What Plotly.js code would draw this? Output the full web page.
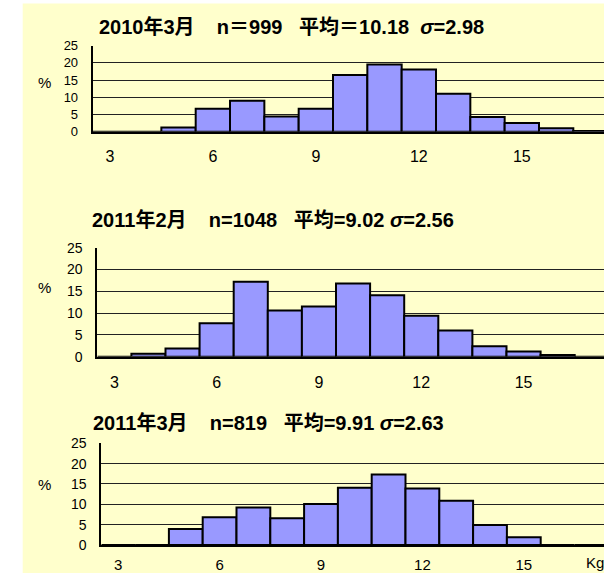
<!DOCTYPE html>
<html>
<head>
<meta charset="utf-8">
<script src="https://cdn.plot.ly/plotly-3.0.1.min.js"></script>
<style>html,body{margin:0;padding:0;background:#fff;overflow:hidden;}</style>
</head>
<body>
<div id="chart" style="width:604px;height:573px;"></div>
<script>
// Weight classes (kg) for every histogram
const categories = [3, 4, 5, 6, 7, 8, 9, 10, 11, 12, 13, 14, 15, 16, 17];
// Percent of children in each class
const pct2010Mar = [0, 0, 1.2, 6.7, 9.0, 4.4, 6.7, 16.5, 19.5, 18.1, 11.0, 4.3, 2.5, 1.0, 0.2];
const pct2011Feb = [0, 0.7, 1.9, 7.7, 17.2, 10.6, 11.5, 16.8, 14.1, 9.4, 6.0, 2.4, 1.2, 0.4, 0];
const pct2011Mar = [0, 0, 3.95, 6.8, 9.2, 6.6, 10.1, 14.1, 17.3, 13.9, 10.9, 4.9, 1.9, 0, 0];
const xTickVals = [3, 6, 9, 12, 15];
const xTickText = ['3', '6', '9', '12', '15'];
const yTickVals = [0, 5, 10, 15, 20, 25];
const titles = [
  '2010年3月\u00A0\u00A0\u00A0\u00A0n＝999\u00A0\u00A0\u00A0平均＝10.18\u00A0\u00A0<i>σ</i>=2.98',
  '2011年2月\u00A0\u00A0\u00A0\u00A0n=1048\u00A0\u00A0\u00A0平均=9.02\u00A0<i>σ</i>=2.56',
  '2011年3月\u00A0\u00A0\u00A0\u00A0n=819\u00A0\u00A0\u00A0平均=9.91\u00A0<i>σ</i>=2.63'
];
const yLabel = '%';
const xUnit = 'Kg';

const W = 604, H = 573;
const px = v => v / W;
const py = v => (H - v) / H;

const barStyle = {color: '#9999FF', line: {color: '#000', width: 2}};
const series = [pct2010Mar, pct2011Feb, pct2011Mar];
// pixel geometry of each panel
const geo = [
  {left: 92.7, unit: 34.33, top: 45.7, bottom: 131.7, tf: 13, xf: 16, xs: 9, tx: 97, ty: 26.5, py: 83},
  {left: 97.3, unit: 34.1, top: 247.7, bottom: 356.7, tf: 14, xf: 16, xs: 10, tx: 90, ty: 220, py: 287},
  {left: 101.3, unit: 33.8, top: 443.3, bottom: 545, tf: 14, xf: 15, xs: 5, tx: 91, ty: 423, py: 484}
];

const data = series.map((s, i) => ({
  type: 'bar', x: categories, y: s, width: 1,
  xaxis: i === 0 ? 'x' : 'x' + (i + 1),
  yaxis: i === 0 ? 'y' : 'y' + (i + 1),
  marker: barStyle, hoverinfo: 'x+y', showlegend: false
}));

const xFontFam = '"Liberation Sans Narrow", "Liberation Sans", "Noto Sans CJK JP", sans-serif';
const yFontFam = '"Liberation Sans", "Noto Sans CJK JP", sans-serif';
const layout = {
  width: W, height: H,
  margin: {l: 0, r: 0, t: 0, b: 0},
  paper_bgcolor: '#ffffff', plot_bgcolor: '#ffffff',
  bargap: 0, showlegend: false,
  shapes: [{type: 'rect', xref: 'paper', yref: 'paper', x0: px(22.7), x1: 1, y0: 0, y1: py(3.5),
            fillcolor: '#FFFFCC', line: {width: 0}, layer: 'below'}],
  annotations: []
};

geo.forEach((g, i) => {
  const sx = i === 0 ? '' : String(i + 1);
  const span = (W - g.left) / g.unit;
  layout['xaxis' + sx] = {
    domain: [px(g.left), 1], range: [2.5, 2.5 + span], anchor: 'y' + sx,
    tickmode: 'array', tickvals: xTickVals, ticktext: xTickText,
    showgrid: false, zeroline: false, showline: true, linecolor: '#000', linewidth: 2,
    ticks: '', ticklabelstandoff: g.xs,
    tickfont: {family: xFontFam, size: g.xf, color: '#000'}, fixedrange: true
  };
  layout['yaxis' + sx] = {
    domain: [py(g.bottom), py(g.top)], range: [0, 25], anchor: 'x' + sx,
    tickmode: 'array', tickvals: yTickVals,
    showgrid: true, gridcolor: '#222', gridwidth: 1, zeroline: false,
    showline: true, linecolor: '#000', linewidth: 2,
    ticks: '', ticklabelstandoff: 10,
    tickfont: {family: yFontFam, size: g.tf, color: '#000'}, fixedrange: true
  };
  layout.annotations.push({
    xref: 'paper', yref: 'paper', x: px(g.tx), y: py(g.ty), xanchor: 'left', yanchor: 'middle',
    text: titles[i], showarrow: false,
    font: {family: '"Liberation Sans", "Noto Sans CJK JP", sans-serif', size: 20, color: '#000', weight: 'bold'}
  });
  layout.annotations.push({
    xref: 'paper', yref: 'paper', x: px(44), y: py(g.py), xanchor: 'center', yanchor: 'middle',
    text: yLabel, showarrow: false,
    font: {family: yFontFam, size: 15, color: '#000'}
  });
});
layout.annotations.push({
  xref: 'paper', yref: 'paper', x: px(584), y: 0, xanchor: 'left', yanchor: 'bottom',
  text: xUnit, showarrow: false,
  font: {family: xFontFam, size: 15, color: '#000'}
});

Plotly.newPlot('chart', data, layout, {displayModeBar: false, staticPlot: true});
</script>
</body>
</html>
